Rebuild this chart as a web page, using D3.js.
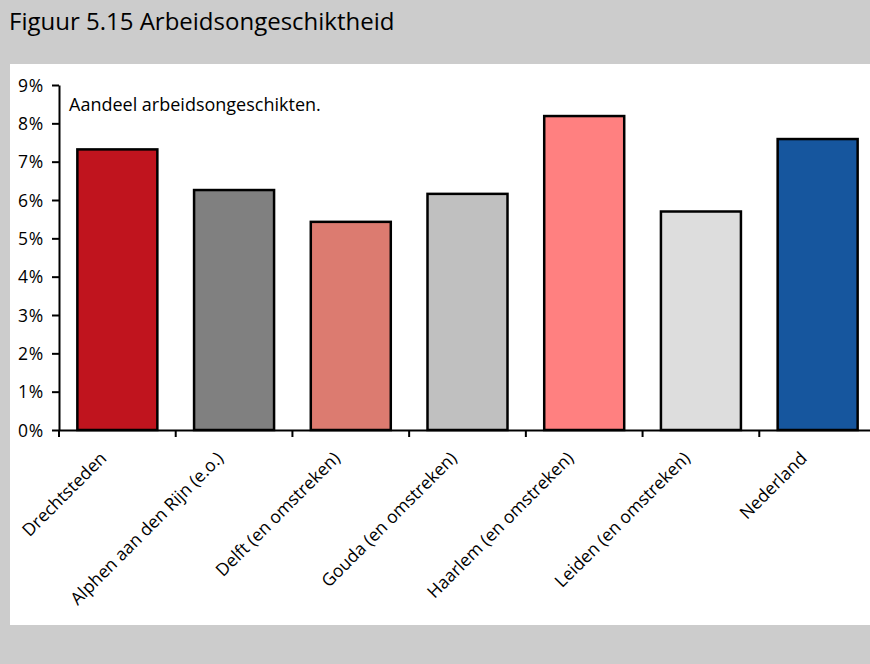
<!DOCTYPE html>
<html>
<head>
<meta charset="utf-8">
<script src="https://cdn.jsdelivr.net/npm/d3@7"></script>
<style>
  html, body { margin: 0; padding: 0; background: #cccccc; }
  svg { display: block; }
  text { font-family: "Open Sans", "Noto Sans", sans-serif; fill: #000; }
</style>
</head>
<body>
<svg id="chart" width="870" height="664"></svg>
<script>
const title = "Figuur 5.15 Arbeidsongeschiktheid";
const subtitle = "Aandeel arbeidsongeschikten.";
const categories = ["Drechtsteden", "Alphen aan den Rijn (e.o.)", "Delft (en omstreken)", "Gouda (en omstreken)", "Haarlem (en omstreken)", "Leiden (en omstreken)", "Nederland"];
const values = [0.0732, 0.0626, 0.0543, 0.0616, 0.0819, 0.0570, 0.0759];
const colors = ["#c0141e", "#808080", "#dc7b70", "#c0c0c0", "#ff8080", "#dddddd", "#16569e"];
const yTicks = [0, 0.01, 0.02, 0.03, 0.04, 0.05, 0.06, 0.07, 0.08, 0.09];

const svg = d3.select("#chart");

// background panels
svg.append("rect").attr("x", 0).attr("y", 0).attr("width", 870).attr("height", 664).attr("fill", "#cccccc");
svg.append("rect").attr("x", 10).attr("y", 64).attr("width", 860).attr("height", 561).attr("fill", "#ffffff");

svg.append("text").attr("x", 9).attr("y", 30).attr("font-size", 24).text(title);

const x = d3.scaleBand().domain(categories).range([59, 876]).paddingInner(0.3146).paddingOuter(0.1573);
const y = d3.scaleLinear().domain([0, 0.09]).range([430, 85]);

// bars
svg.append("g").selectAll("rect").data(categories).join("rect")
  .attr("x", d => x(d))
  .attr("y", (d, i) => y(values[i]))
  .attr("width", x.bandwidth())
  .attr("height", (d, i) => y(0) - y(values[i]))
  .attr("fill", (d, i) => colors[i])
  .attr("stroke", "#000")
  .attr("stroke-width", 2.5);

// y axis
const yAxis = svg.append("g").attr("transform", "translate(59,0)")
  .call(d3.axisLeft(y).tickValues(yTicks).tickFormat(d3.format(".0%")).tickSize(7).tickSizeOuter(0).tickPadding(8));
yAxis.select(".domain").attr("stroke", "#000").attr("stroke-width", 2);
yAxis.selectAll(".tick line").attr("stroke", "#000").attr("stroke-width", 2);
yAxis.selectAll(".tick text").attr("font-size", 17.5).attr("font-family", "'Open Sans', sans-serif").attr("dy", "0.35em").attr("letter-spacing", 0.8);

// x axis
const xAxis = svg.append("g").attr("transform", "translate(0,430)")
  .call(d3.axisBottom(x).tickSize(7).tickSizeOuter(0));
xAxis.select(".domain").attr("stroke", "#000").attr("stroke-width", 2);
xAxis.selectAll(".tick line").attr("stroke", "#000").attr("stroke-width", 2)
  .attr("transform", "translate(" + (-x.step() / 2) + ",0)");
xAxis.selectAll(".tick text")
  .attr("font-size", 17.5)
  .attr("font-family", "'Open Sans', sans-serif")
  .attr("text-anchor", "end")
  .attr("dy", "0.35em")
  .attr("y", 0)
  .attr("transform", "translate(-14,25) rotate(-45)");

svg.append("text").attr("x", 69).attr("y", 111).attr("font-size", 18).text(subtitle);
</script>
</body>
</html>
